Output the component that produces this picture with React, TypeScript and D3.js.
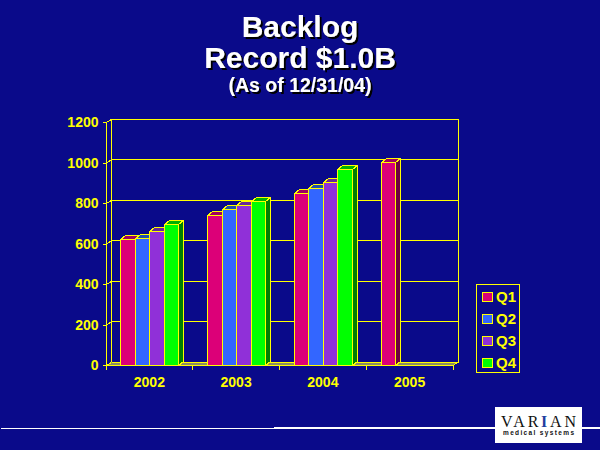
import React from "react";
import * as d3 from "d3";

const years = ["2002", "2003", "2004", "2005"];
const quarters = ["Q1", "Q2", "Q3", "Q4"];
const q1 = [620, 739, 848, 1004];
const q2 = [627, 769, 876, null];
const q3 = [660, 789, 902, null];
const q4 = [695, 810, 966, null];
const series = [q1, q2, q3, q4];
const yTicks = [0, 200, 400, 600, 800, 1000, 1200];
const titles = [
  { text: "Backlog", base: 37, size: 30 },
  { text: "Record $1.0B", base: 68, size: 30 },
  { text: "(As of 12/31/04)", base: 92, size: 19.5 },
];

const BG = "#0a0a8a";
const YEL = "#ffff00";
const front = ["#dc0078", "#3366ff", "#9030d8", "#00ff00"];
const top = ["#a00060", "#2050a8", "#682898", "#00b000"];
const side = ["#700040", "#1a3380", "#481868", "#008000"];

const x0 = d3.scaleBand<string>().domain(years).range([106, 453]).paddingInner(1 / 3).paddingOuter(1 / 6);
const x1 = d3.scaleBand<string>().domain(quarters).range([0, x0.bandwidth()]);
const y = d3.scaleLinear().domain([0, 1200]).range([365, 122]);
const DX = 5.5;
const DY = 3.5;
const BX = 5;
const BY = 4;

const pts = (a: number[][]) => a.map((p) => p.join(",")).join(" ");
const sn = (v: number) => Math.round(v) + 0.5;
const sans = "'Liberation Sans', Arial, sans-serif";

export default function App() {
  const s0 = sn(y(0));
  const right = x0.range()[1];
  return (
    <svg width={600} height={450} style={{ position: "absolute", left: 0, top: 0, display: "block" }}>
      <defs>
        <filter id="hardShadow" x="-5%" y="-10%" width="110%" height="130%">
          <feDropShadow dx={2} dy={2} stdDeviation={0} floodColor="#000000" />
        </filter>
      </defs>
      <rect width={600} height={450} fill={BG} />
      <g fontFamily={sans} fontWeight="bold" textAnchor="middle" fill="#ffffff" filter="url(#hardShadow)">
        {titles.map((t) => (
          <text key={t.text} x={300} y={t.base} fontSize={t.size}>{t.text}</text>
        ))}
      </g>

      <g stroke={YEL} strokeWidth={1} fill="none" shapeRendering="crispEdges">
        <polygon points={pts([[106, s0], [106 + DX, s0 - DY], [right + DX, s0 - DY], [right, s0]])} fill="#8c8c64" stroke="none" />
        {yTicks.map((t) => (
          <g key={t}>
            <line x1={106 + DX} x2={right + DX} y1={sn(y(t) - DY)} y2={sn(y(t) - DY)} />
            <polyline points={pts([[103, sn(y(t))], [106, sn(y(t))], [106 + DX, sn(y(t) - DY)]])} />
          </g>
        ))}
        <line x1={106} x2={106} y1={y(1200)} y2={s0 + 4} />
        <line x1={106 + DX} x2={106 + DX} y1={y(1200) - DY} y2={s0 - DY} />
        <line x1={right + DX} x2={right + DX} y1={y(1200) - DY} y2={s0 - DY} />
        <line x1={right} x2={right + DX} y1={s0} y2={s0 - DY} />
        <line x1={106} x2={right} y1={s0} y2={s0} />
        {[...years, ""].map((c, i) => {
          const tx = 106 + i * x0.step();
          return <line key={i} x1={tx} x2={tx} y1={s0} y2={s0 + 4} />;
        })}
      </g>

      {years.map((yr, i) => (
        <g key={yr}>
          {quarters.map((q, k) => {
            const v = series[k][i];
            if (v == null) return null;
            const xl = sn(x0(yr)! + x1(q)!);
            const xr = sn(x0(yr)! + x1(q)! + x1.bandwidth());
            const yt = sn(y(v));
            return (
              <g key={q} stroke={YEL} strokeWidth={1} shapeRendering="crispEdges">
                <polygon points={pts([[xr, yt], [xr + BX, yt - BY], [xr + BX, s0 - BY], [xr, s0]])} fill={side[k]} />
                <polygon points={pts([[xl, yt], [xl + BX, yt - BY], [xr + BX, yt - BY], [xr, yt]])} fill={top[k]} />
                <rect x={xl} y={yt} width={xr - xl} height={s0 - yt} fill={front[k]} />
              </g>
            );
          })}
        </g>
      ))}

      <g fontFamily={sans} fontWeight="bold" fontSize={14} fill={YEL}>
        {yTicks.map((t) => (
          <text key={t} x={98.5} y={y(t) + 5} textAnchor="end">{t}</text>
        ))}
        {years.map((yr) => (
          <text key={yr} x={x0(yr)! + x0.bandwidth() / 2} y={387} textAnchor="middle">{yr}</text>
        ))}
      </g>

      <rect x={476.5} y={284.5} width={43} height={88} fill="none" stroke={YEL} shapeRendering="crispEdges" />
      {quarters.map((q, k) => (
        <g key={q}>
          <rect x={482.5} y={292.5 + k * 22} width={10} height={9} fill={front[k]} stroke={YEL} shapeRendering="crispEdges" />
          <text x={496} y={301.5 + k * 22} fontFamily={sans} fontWeight="bold" fontSize={15} fill={YEL}>{q}</text>
        </g>
      ))}

      <line x1={1} x2={274} y1={428.5} y2={428.5} stroke="#ffffff" shapeRendering="crispEdges" />
      <rect x={274} y={427} width={326} height={2} fill="#ffffff" />
      <rect x={495} y={407} width={87} height={36} fill="#ffffff" />
      <text x={501} y={427} fontFamily="'Liberation Serif', serif" fontSize={16} fill="#111111" textLength={75} lengthAdjust="spacing">
        VAR<tspan fill="#1f3f9f" fontWeight="bold">I</tspan>AN
      </text>
      <text x={503} y={435} fontFamily={sans} fontWeight="bold" fontSize={6.5} fill="#111111" textLength={71} lengthAdjust="spacing">medical systems</text>
    </svg>
  );
}
